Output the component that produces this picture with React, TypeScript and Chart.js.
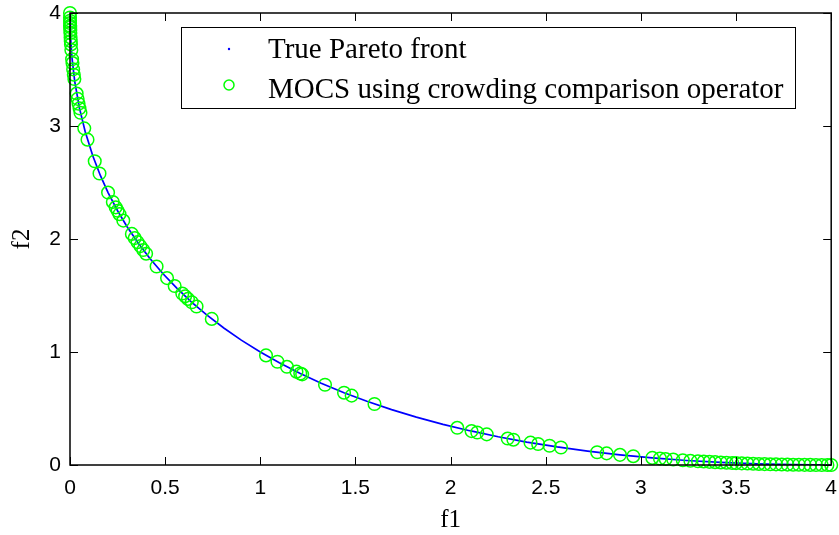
import React, { useEffect, useRef } from "react";
import { Chart, registerables } from "chart.js";

Chart.register(...registerables);

// True Pareto front (f1, f2)
const frontF1 = [0, 0.0025, 0.01, 0.025, 0.05, 0.08, 0.12, 0.16, 0.2, 0.25, 0.3, 0.36, 0.42, 0.49, 0.56, 0.64, 0.72, 0.81, 0.9, 1.0, 1.1, 1.21, 1.32, 1.44, 1.56, 1.69, 1.82, 1.96, 2.1, 2.25, 2.4, 2.56, 2.72, 2.89, 3.06, 3.24, 3.42, 3.61, 3.8, 4.0];
const frontF2 = [4.0, 3.8025, 3.61, 3.393, 3.156, 2.949, 2.734, 2.56, 2.411, 2.25, 2.109, 1.96, 1.828, 1.69, 1.567, 1.44, 1.326, 1.21, 1.105, 1.0, 0.905, 0.81, 0.724, 0.64, 0.564, 0.49, 0.424, 0.36, 0.3035, 0.25, 0.2032, 0.16, 0.1231, 0.09, 0.063, 0.04, 0.0227, 0.01, 0.0026, 0.0];

// MOCS solutions (green circles)
const mocsF1 = [0, 0.0001, 0.0003, 0.0005, 0.0008, 0.001, 0.0015, 0.002, 0.003, 0.004, 0.005, 0.007,
  0.011, 0.013, 0.0166, 0.02, 0.023, 0.035, 0.04, 0.045, 0.05, 0.055, 0.075, 0.092,
  0.13, 0.155, 0.2, 0.225, 0.24, 0.25, 0.26, 0.28, 0.325, 0.34, 0.355, 0.37, 0.385, 0.4,
  0.455, 0.51, 0.55, 0.59, 0.605, 0.62, 0.64, 0.665, 0.745,
  1.03, 1.09, 1.14, 1.19, 1.21, 1.22, 1.34, 1.44, 1.48, 1.6,
  2.035, 2.11, 2.14, 2.19, 2.3, 2.33, 2.42, 2.46, 2.52, 2.58, 2.77, 2.82, 2.89, 2.96,
  3.06, 3.1, 3.13, 3.17, 3.22, 3.26, 3.3, 3.33, 3.36, 3.39, 3.42, 3.45, 3.48, 3.5, 3.53, 3.56, 3.59,
  3.62, 3.65, 3.68, 3.71, 3.74, 3.77, 3.8, 3.83, 3.86, 3.89, 3.92, 3.95, 3.98, 4.0];
const mocsF2 = [4.0, 3.96, 3.931, 3.911, 3.887, 3.875, 3.847, 3.823, 3.784, 3.751, 3.722, 3.673,
  3.591, 3.557, 3.501, 3.454, 3.416, 3.287, 3.24, 3.197, 3.156, 3.117, 2.979, 2.879,
  2.688, 2.58, 2.411, 2.328, 2.28, 2.25, 2.22, 2.163, 2.045, 2.008, 1.972, 1.937, 1.903, 1.87,
  1.757, 1.654, 1.584, 1.518, 1.494, 1.47, 1.44, 1.403, 1.293,
  0.97, 0.914, 0.869, 0.826, 0.81, 0.802, 0.71, 0.64, 0.614, 0.54,
  0.329, 0.3, 0.288, 0.271, 0.234, 0.224, 0.198, 0.186, 0.17, 0.155, 0.113, 0.103, 0.09, 0.078,
  0.0629, 0.0573, 0.0533, 0.0482, 0.0423, 0.0378, 0.0336, 0.0307, 0.0279, 0.0252, 0.0227, 0.0203, 0.0181, 0.0167, 0.0147, 0.0128, 0.0111,
  0.0095, 0.008, 0.0067, 0.0055, 0.0044, 0.0034, 0.0026, 0.0018, 0.0012, 0.0008, 0.0004, 0.0002, 0.00003, 0.0];

const xTicks = [0, 0.5, 1, 1.5, 2, 2.5, 3, 3.5, 4];
const xTickLabels = ["0", "0.5", "1", "1.5", "2", "2.5", "3", "3.5", "4"];
const yTicks = [0, 1, 2, 3, 4];
const yTickLabels = ["0", "1", "2", "3", "4"];

const seriesLabels = ["True Pareto front", "MOCS using crowding comparison operator"];

const boxPlugin = {
  id: "matlabBox",
  afterDatasetsDraw(chart: any) {
    const { ctx, chartArea: a, scales } = chart;
    ctx.save();
    ctx.strokeStyle = "#000";
    ctx.lineWidth = 1.5;
    ctx.strokeRect(a.left, a.top, a.right - a.left, a.bottom - a.top);
    ctx.lineWidth = 1;
    const tl = 8;
    ctx.beginPath();
    xTicks.forEach((v) => {
      const x = Math.round(scales.x.getPixelForValue(v)) + 0.5;
      ctx.moveTo(x, a.bottom);
      ctx.lineTo(x, a.bottom - tl);
      ctx.moveTo(x, a.top);
      ctx.lineTo(x, a.top + tl);
    });
    yTicks.forEach((v) => {
      const y = Math.round(scales.y.getPixelForValue(v)) + 0.5;
      ctx.moveTo(a.left, y);
      ctx.lineTo(a.left + tl, y);
      ctx.moveTo(a.right, y);
      ctx.lineTo(a.right - tl, y);
    });
    ctx.stroke();
    ctx.restore();
  },
  afterDraw(chart: any) {
    const { ctx } = chart;
    const ds = chart.data.datasets;
    ctx.save();
    const bx = 181, by = 27, bw = 614, bh = 81;
    ctx.fillStyle = "#fff";
    ctx.fillRect(bx, by, bw, bh);
    ctx.strokeStyle = "#000";
    ctx.lineWidth = 1;
    ctx.strokeRect(bx + 0.5, by + 0.5, bw, bh);
    // marker 1: small blue dot
    ctx.fillStyle = "#0000ff";
    ctx.beginPath();
    ctx.arc(229, 49, 1.2, 0, Math.PI * 2);
    ctx.fill();
    // marker 2: green circle
    ctx.strokeStyle = "#00ff00";
    ctx.lineWidth = 1.5;
    ctx.beginPath();
    ctx.arc(229, 85, 5, 0, Math.PI * 2);
    ctx.stroke();
    ctx.fillStyle = "#000";
    ctx.font = '29px "Liberation Serif", "Times New Roman", serif';
    ctx.textBaseline = "alphabetic";
    ctx.textAlign = "left";
    ctx.fillText(ds[1].label, 268, 58);
    ctx.fillText(ds[0].label, 268, 98);
    ctx.restore();
  },
};

export default function App() {
  const ref = useRef<HTMLCanvasElement>(null);
  useEffect(() => {
    const canvas = ref.current;
    if (!canvas) return;
    const frontData = frontF1.map((x, i) => ({ x, y: frontF2[i] }));
    const mocsData = mocsF1.map((x, i) => ({ x, y: mocsF2[i] }));
    const tickFont = { family: '"Liberation Sans", Arial, sans-serif', size: 21 };
    const chart = new Chart(canvas, {
      type: "scatter",
      data: {
        datasets: [
          {
            label: seriesLabels[1],
            data: mocsData,
            pointStyle: "circle",
            pointRadius: 6.3,
            pointHoverRadius: 6.3,
            borderColor: "#00ff00",
            backgroundColor: "rgba(0,0,0,0)",
            borderWidth: 1.5,
            clip: false as any,
            order: 0,
          },
          {
            label: seriesLabels[0],
            data: frontData,
            showLine: true,
            borderColor: "#0000ff",
            backgroundColor: "#0000ff",
            borderWidth: 1.7,
            pointRadius: 0,
            pointHoverRadius: 0,
            tension: 0,
            order: 1,
          },
        ],
      },
      options: {
        responsive: false,
        animation: false,
        devicePixelRatio: 1,
        layout: { padding: { left: 0, top: 13, right: 6, bottom: 0 } },
        plugins: { legend: { display: false }, tooltip: { enabled: false } },
        events: [],
        scales: {
          x: {
            type: "linear",
            min: 0,
            max: 4,
            grid: { display: false, drawTicks: false },
            border: { display: false },
            afterBuildTicks: (s: any) => {
              s.ticks = xTicks.map((v) => ({ value: v }));
            },
            afterFit: (s: any) => {
              s.height = 70;
              s.paddingLeft = 0;
              s.paddingRight = 0;
            },
            ticks: {
              color: "#000",
              font: tickFont,
              padding: 11,
              maxRotation: 0,
              autoSkip: false,
              callback: (_v: any, i: number) => xTickLabels[i],
            },
            title: {
              display: true,
              text: "f1",
              color: "#000",
              font: { family: '"Liberation Serif", serif', size: 25 },
              padding: { top: 0, bottom: 0 },
            },
          },
          y: {
            type: "linear",
            min: 0,
            max: 4,
            grid: { display: false, drawTicks: false },
            border: { display: false },
            afterBuildTicks: (s: any) => {
              s.ticks = yTicks.map((v) => ({ value: v }));
            },
            afterFit: (s: any) => {
              s.width = 70;
              s.paddingTop = 0;
              s.paddingBottom = 0;
            },
            ticks: {
              color: "#000",
              font: tickFont,
              padding: 9,
              autoSkip: false,
              callback: (_v: any, i: number) => yTickLabels[i],
            },
            title: {
              display: true,
              text: "f2",
              color: "#000",
              font: { family: '"Liberation Serif", serif', size: 25 },
              padding: { top: 7, bottom: 0 },
            },
          },
        },
      },
      plugins: [boxPlugin],
    });
    return () => chart.destroy();
  }, []);
  return (
    <div style={{ position: "fixed", left: 0, top: 0, width: 839, height: 535, background: "#fff" }}>
      <canvas ref={ref} width={839} height={535} style={{ display: "block" }} />
    </div>
  );
}
